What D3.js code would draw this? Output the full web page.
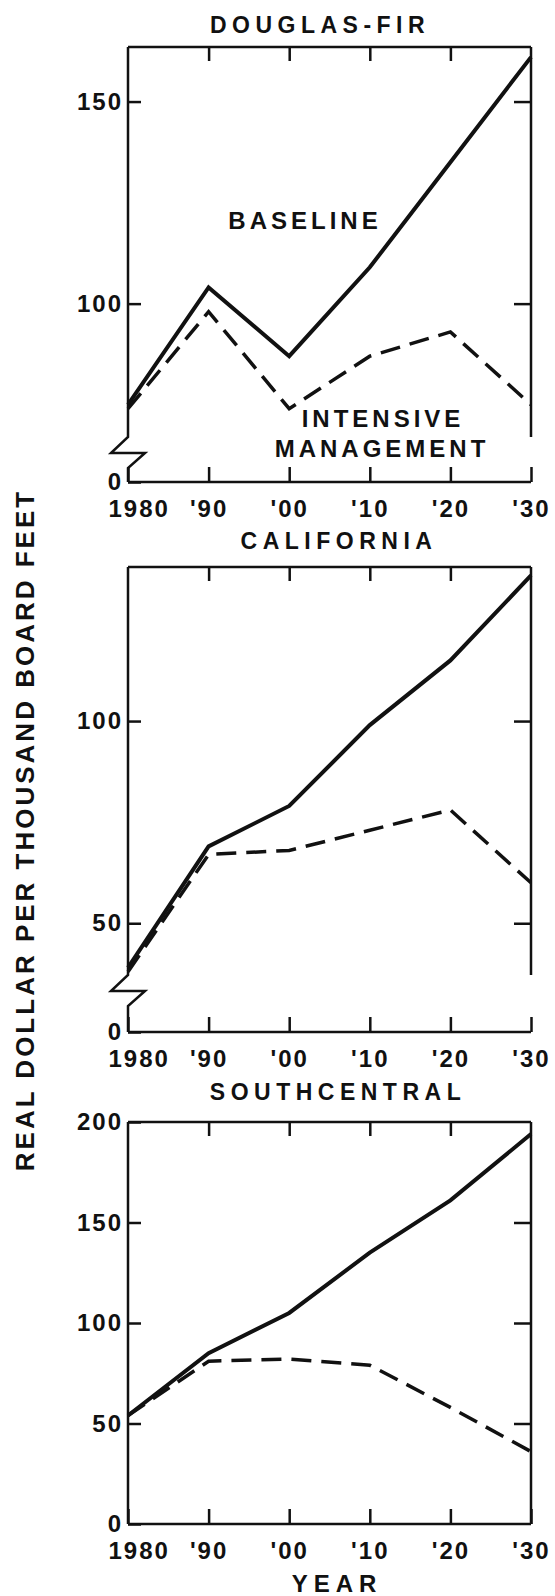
<!DOCTYPE html>
<html>
<head>
<meta charset="utf-8">
<script src="https://cdn.jsdelivr.net/npm/d3@7"></script>
<style>
  body { margin: 0; background: #fff; }
  svg { display: block; }
  text { font-family: "Liberation Sans", Arial, sans-serif; font-weight: bold; fill: #111; }
  .tick text { font-size: 24px; letter-spacing: 2px; }
  .title { font-size: 23px; letter-spacing: 5.5px; }
  .note { font-size: 24px; letter-spacing: 4px; }
</style>
</head>
<body>
<div id="chart"></div>
<script>
// years along the bottom of every panel
const years = [1980, 1990, 2000, 2010, 2020, 2030];
const yearLabels = ["1980", "'90", "'00", "'10", "'20", "'30"];

// Douglas-fir, real dollars per thousand board feet
const dfBaseline = [75, 104, 87, 109, 135, 161];
const dfIntensive = [74, 98, 74, 87, 93, 75];
const dfTicks = [0, 100, 150];

// California
const caBaseline = [39, 69, 79, 99, 115, 136];
const caIntensive = [38, 67, 68, 73, 78, 60];
const caTicks = [0, 50, 100];

// Southcentral
const scBaseline = [54, 85, 105, 135, 161, 194];
const scIntensive = [54, 81, 82, 79, 58, 36];
const scTicks = [0, 50, 100, 150, 200];

const width = 555, height = 1596;
const left = 128, right = 531;

// panel layout; a broken axis gets a polylinear scale
const panels = [
  {title: "DOUGLAS-FIR", titleX: 320, titleY: 33, top: 47, bottom: 482,
   brkVal: 67, brkY: 437, topVal: 163.5,
   baseline: dfBaseline, intensive: dfIntensive, ticks: dfTicks},
  {title: "CALIFORNIA", titleX: 339, titleY: 549, top: 567, bottom: 1032,
   brkVal: 37.2, brkY: 975, topVal: 138.1,
   baseline: caBaseline, intensive: caIntensive, ticks: caTicks},
  {title: "SOUTHCENTRAL", titleX: 338, titleY: 1100, top: 1122, bottom: 1524,
   brkVal: null, topVal: 200,
   baseline: scBaseline, intensive: scIntensive, ticks: scTicks}
];

const svg = d3.select("#chart").append("svg")
    .attr("width", width)
    .attr("height", height);

svg.append("rect").attr("width", width).attr("height", height).attr("fill", "#fff");

const x = d3.scaleLinear().domain([1980, 2030]).range([left, right]);

panels.forEach(function(p) {
  const y = p.brkVal === null
    ? d3.scaleLinear().domain([0, p.topVal]).range([p.bottom, p.top])
    : d3.scaleLinear().domain([0, p.brkVal, p.topVal]).range([p.bottom, p.brkY, p.top]);

  const g = svg.append("g");

  // frame with axis break
  let leftPath, rightPath;
  if (p.brkVal === null) {
    leftPath = `M${left},${p.top}V${p.bottom}`;
    rightPath = `M${right},${p.top}V${p.bottom}`;
  } else {
    leftPath = `M${left},${p.top}V${p.brkY}L${left - 17},${p.brkY + 16}H${left + 17}` +
               `L${left},${p.brkY + 31}V${p.bottom}`;
    rightPath = `M${right},${p.top}V${p.brkY}`;
  }
  g.append("path")
      .attr("d", leftPath + rightPath + `M${left},${p.top}H${right}M${left},${p.bottom}H${right}`)
      .attr("fill", "none")
      .attr("stroke", "#111")
      .attr("stroke-width", 2.5)
      .attr("stroke-linejoin", "miter");

  // axes, ticks drawn inward
  g.append("g")
      .attr("transform", `translate(${left},0)`)
      .call(d3.axisLeft(y).tickValues(p.ticks).tickSizeInner(-13).tickSizeOuter(0).tickPadding(5))
      .call(a => a.select(".domain").remove());

  g.append("g")
      .attr("transform", `translate(${right},0)`)
      .call(d3.axisRight(y).tickValues(p.ticks.filter(v => v > 0 && v < p.topVal))
        .tickSizeInner(-17).tickSizeOuter(0).tickFormat(""))
      .call(a => a.select(".domain").remove());

  g.append("g")
      .attr("transform", `translate(0,${p.top})`)
      .call(d3.axisTop(x).tickValues(years.slice(1, -1)).tickSizeInner(-14).tickSizeOuter(0).tickFormat(""))
      .call(a => a.select(".domain").remove());

  g.append("g")
      .attr("transform", `translate(0,${p.bottom})`)
      .call(d3.axisBottom(x).tickValues(years).tickSizeInner(-15).tickSizeOuter(0)
        .tickPadding(18).tickFormat((d, i) => yearLabels[i]))
      .call(a => a.select(".domain").remove())
      .call(a => a.select(".tick:first-of-type text").attr("text-anchor", "start").attr("x", -20));

  g.selectAll(".tick line").attr("stroke", "#111").attr("stroke-width", 2.5);

  // series
  const line = d3.line()
      .x((d, i) => x(years[i]))
      .y(d => y(d));

  g.append("path")
      .datum(p.baseline)
      .attr("d", line)
      .attr("fill", "none")
      .attr("stroke", "#111")
      .attr("stroke-width", 4);

  g.append("path")
      .datum(p.intensive)
      .attr("d", line)
      .attr("fill", "none")
      .attr("stroke", "#111")
      .attr("stroke-width", 3.5)
      .attr("stroke-dasharray", "20,10");

  svg.append("text")
      .attr("class", "title")
      .attr("x", p.titleX)
      .attr("y", p.titleY)
      .attr("text-anchor", "middle")
      .text(p.title);
});

// series names, Douglas-fir panel only
svg.append("text").attr("class", "note").attr("x", 305).attr("y", 229)
    .attr("text-anchor", "middle").text("BASELINE");
svg.append("text").attr("class", "note").attr("x", 383).attr("y", 427)
    .attr("text-anchor", "middle").text("INTENSIVE");
svg.append("text").attr("class", "note").attr("x", 382).attr("y", 457)
    .attr("text-anchor", "middle").text("MANAGEMENT");

svg.append("text").attr("class", "note").attr("x", 337).attr("y", 1592)
    .attr("text-anchor", "middle").style("letter-spacing", "6px").text("YEAR");

svg.append("text").attr("class", "note")
    .attr("transform", "translate(34,830) rotate(-90)")
    .attr("text-anchor", "middle")
    .style("font-size", "26px")
    .style("letter-spacing", "3px")
    .text("REAL DOLLAR PER THOUSAND BOARD FEET");
</script>
</body>
</html>
